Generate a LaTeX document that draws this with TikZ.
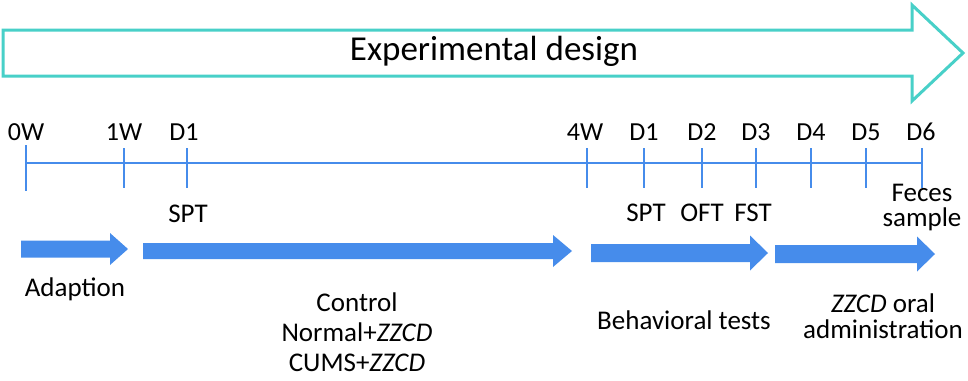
\documentclass[tikz,border=0pt]{standalone}
\usepackage{fontspec}
\setmainfont{Carlito}
\definecolor{teal1}{RGB}{72,208,200}
\definecolor{blue1}{RGB}{70,140,235}
\begin{document}
\begin{tikzpicture}[x=1pt,y=-1pt,
  lbl/.style={inner sep=0pt,font=\fontsize{27}{32}\selectfont,align=center,text=black},
  tick/.style={lbl,font=\fontsize{26}{30}\selectfont},
  tline/.style={draw=blue1,line width=1.8pt},
  barrow/.style={fill=blue1,draw=none}]
\useasboundingbox (0,0) rectangle (968,380);
% big outline arrow
\draw[teal1,line width=3pt,line join=miter]
  (3,30) -- (912,30) -- (912,5) -- (963,53) -- (912,101) -- (912,76) -- (3,76) -- cycle;
\node[lbl,font=\fontsize{35}{40}\selectfont] (title) at (494,51) {Experimental design};
% timeline
\coordinate (t0) at (26,163);
\coordinate (tend) at (922,163);
\draw[tline] (t0) -- (tend);
\foreach \n/\x/\a/\b in {w0/26/145/191, w1/124/148/188, da/187/148/188, w4/587/148/188,
  d1/644/148/188, d2/702/148/188, d3/756/148/188, d4/811/148/188, d5/866/148/188, d6/922/148/188}{
  \coordinate (\n top) at (\x,\a);
  \coordinate (\n bot) at (\x,\b);
  \draw[tline] (\n top) -- (\n bot);
}
\node[tick] (l0) at (26,132) {0W};
\node[tick] (l1) at (124,132) {1W};
\node[tick] (la) at (184,132) {D1};
\node[tick] (l4) at (585,132) {4W};
\node[tick] (ld1) at (644,132) {D1};
\node[tick] (ld2) at (702,132) {D2};
\node[tick] (ld3) at (756,132) {D3};
\node[tick] (ld4) at (811,132) {D4};
\node[tick] (ld5) at (866,132) {D5};
\node[tick] (ld6) at (921,132) {D6};
% tests
\node[lbl] (spta) at (188,214) {SPT};
\node[lbl] (sptb) at (646,213) {SPT};
\node[lbl] (oft) at (702,213) {OFT};
\node[lbl] (fst) at (753,213) {FST};
\node[lbl,font=\fontsize{27}{25}\selectfont] (feces) at (922,208) {Feces\\sample};
% block arrows
\fill[barrow] (21,240.5) -- (110,240.5) -- (110,233) -- (128,249) -- (110,265) -- (110,257.5) -- (21,257.5) -- cycle;
\fill[barrow] (143,243) -- (553,243) -- (553,235) -- (572,251) -- (553,267) -- (553,259) -- (143,259) -- cycle;
\fill[barrow] (591,244) -- (750,244) -- (750,235.5) -- (768,253) -- (750,270.5) -- (750,262) -- (591,262) -- cycle;
\fill[barrow] (775,245) -- (917,245) -- (917,236.5) -- (935,254) -- (917,271.5) -- (917,263) -- (775,263) -- cycle;
% phase labels
\node[lbl] (adapt) at (75,289) {Adaption};
\node[lbl,font=\fontsize{27}{30}\selectfont] (groups) at (357,332) {Control\\Normal+\textit{ZZCD}\\CUMS+\textit{ZZCD}};
\node[lbl] (behav) at (684,320) {Behavioral tests};
\node[lbl,font=\fontsize{27}{26}\selectfont] (oral) at (883,316) {\textit{ZZCD} oral\\administration};
\end{tikzpicture}
\end{document}
